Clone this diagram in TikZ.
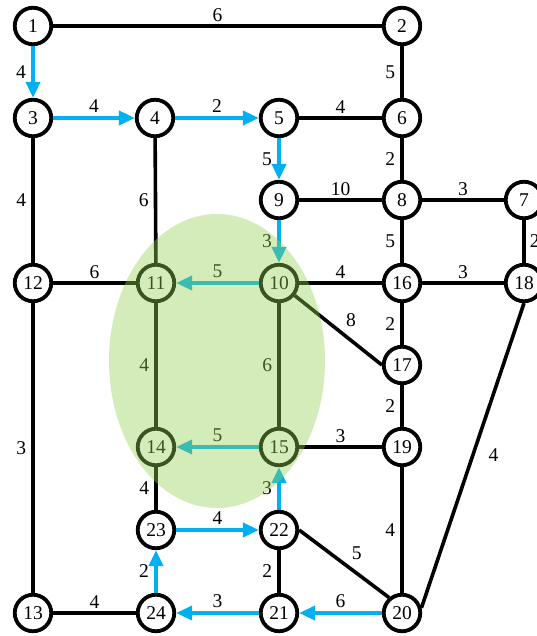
\documentclass[tikz,border=0pt]{standalone}
\usepackage{fontspec}
\setmainfont{Liberation Serif}
\usetikzlibrary{arrows.meta,positioning}
\definecolor{route}{RGB}{0,176,240}
\definecolor{zone}{RGB}{146,208,80}
\begin{document}
\begin{tikzpicture}[x=1pt,y=-1pt,
    vtx/.style={circle,draw,line width=3.8pt,fill=white,minimum size=36.5pt,inner sep=0pt,font=\fontsize{19.5}{19.5}\selectfont},
    link/.style={line width=3.6pt},
    hop/.style={line width=4.2pt,route,-{Triangle[length=16pt,width=14pt]}},
    wt/.style={inner sep=2pt,text=black,font=\fontsize{19.5}{19.5}\selectfont},
    wl/.style={left=3pt},
    wa/.style={above=1pt},
    wr/.style={right=2pt},
    wd/.style={above right=0pt and 4pt},
    wf/.style={right=12pt}]
  \clip (0,0) rectangle (537,636);
  \foreach \i/\x/\y in {1/33/26, 2/402/26, 3/33/118, 4/155/118, 5/279/118, 6/402/118,
      7/524/200, 8/402/200, 9/279/200, 10/279/283, 11/156/283, 12/33/283,
      13/33/613, 14/156/447, 15/279/447, 16/402/283, 17/402/365, 18/524/283,
      19/402/447, 20/402/613, 21/279/613, 22/279/530, 23/156/530, 24/156/613}
    \node[vtx] (n\i) at (\x,\y) {\i};
  \foreach \a/\b/\w/\p in {1/2/6/wa, 2/6/5/wl, 5/6/4/wa, 6/8/2/wl, 9/8/10/wa, 8/7/3/wa,
      7/18/2/wr, 3/12/4/wl, 4/11/6/wl, 8/16/5/wl, 12/11/6/wa, 10/16/4/wa, 16/18/3/wa,
      10/17.west/8/wd, 16/17/2/wl, 11/14/4/wl, 10/15/6/wl, 17/19/2/wl, 15/19/3/wa,
      12/13/3/wl, 18.south/20.15/4/wf, 14/23/4/wl, 22.east/20.130/5/wd, 22/21/2/wl,
      19/20/4/wl, 13/24/4/wa}
    \draw[link] (n\a) -- node[wt,\p] {\w} (n\b);
  \foreach \a/\b/\w/\p in {1/3/4/wl, 3/4/4/wa, 4/5/2/wa, 5/9/5/wl, 9/10/3/wl, 10/11/5/wa,
      15/14/5/wa, 22/15/3/wl, 23/22/4/wa, 24/23/2/wl, 21/24/3/wa, 20/21/6/wa}
    \draw[hop] (n\a) -- node[wt,\p] {\w} (n\b);
  \fill[zone,fill opacity=0.4] (217,361) ellipse [x radius=108, y radius=147];
\end{tikzpicture}
\end{document}
